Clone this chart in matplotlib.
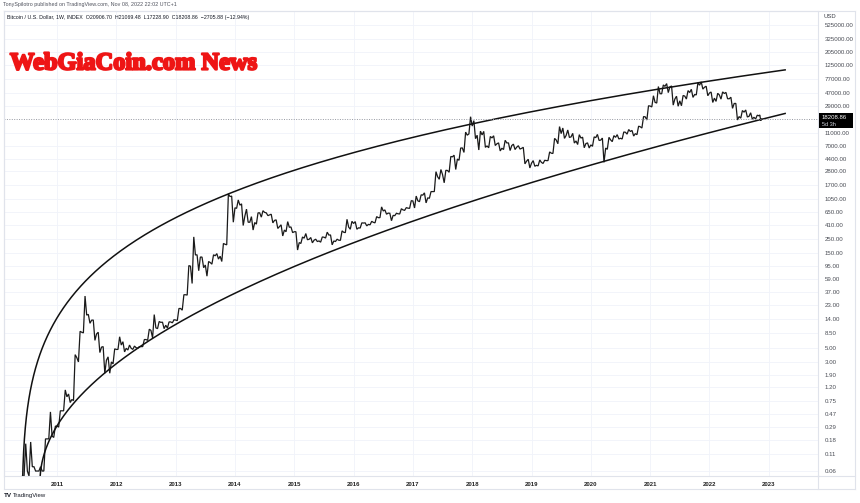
import numpy as np
import pandas as pd
import matplotlib
matplotlib.use("Agg")
import matplotlib.pyplot as plt
import matplotlib.patheffects as pe
from matplotlib.patches import Rectangle
from matplotlib.lines import Line2D

plt.rcParams['font.family'] = ['Liberation Sans', 'DejaVu Sans']

# ---------------- data (monthly) ----------------
first_month = "2010-06"
first_open = 0.05
last_end = 2022.88

highs = [0.16, 0.17, 0.07, 0.07, 0.19, 0.50, 0.30,
         0.52, 1.10, 0.95, 3.9, 9.0, 31.9, 16.5, 13.5, 8.7, 5.2, 3.6, 4.8,
         7.4, 6.2, 5.5, 5.3, 5.2, 6.7, 9.7, 16.4, 12.8, 12.5, 12.6, 13.6,
         20.4, 33.4, 95, 266, 140, 129, 110, 140, 146, 210, 1242, 1150,
         1000, 870, 720, 550, 630, 680, 630, 600, 490, 410, 460, 380,
         320, 265, 300, 260, 245, 265, 315, 285, 245, 330, 500, 465,
         460, 440, 440, 465, 550, 780, 700, 620, 620, 730, 760, 975,
         1150, 1200, 1290, 1350, 2760, 2980, 2900, 4750, 4980, 6450, 11400, 19800,
         17200, 11800, 11700, 9750, 9990, 7750, 8500, 7750, 7400, 7000, 6600, 4300,
         4100, 4200, 4150, 5600, 9100, 13900, 13200, 12300, 10900, 10400, 9500, 7750,
         9600, 10500, 9200, 9450, 10050, 10400, 11450, 12500, 12100, 14100, 19900, 29300,
         42000, 58400, 61800, 64900, 59600, 41300, 42400, 50500, 52900, 67000, 69000, 59100,
         48000, 45800, 48200, 47400, 39800, 31900, 24700, 25200, 22800, 20900, 21069]
lows = [0.05, 0.05, 0.06, 0.06, 0.06, 0.19, 0.20,
        0.29, 0.52, 0.70, 0.75, 3.0, 8.5, 12.0, 6.5, 4.2, 2.0, 2.0, 2.8,
        4.7, 4.3, 4.6, 4.7, 4.9, 5.2, 6.5, 7.1, 9.9, 9.9, 10.1, 12.2,
        13.2, 19.2, 33, 50, 79, 88, 65, 100, 120, 110, 200, 450,
        740, 400, 450, 340, 420, 540, 570, 440, 360, 275, 320, 310,
        166, 210, 240, 215, 225, 220, 255, 200, 225, 235, 310, 350,
        350, 365, 395, 410, 440, 530, 600, 475, 570, 605, 690, 740,
        750, 940, 900, 1060, 1350, 2100, 1850, 2700, 2980, 4150, 5500, 10700,
        9000, 6000, 6600, 6500, 7050, 5800, 6100, 5880, 6100, 6200, 3650, 3150,
        3350, 3390, 3700, 4100, 5300, 7500, 9100, 9400, 7700, 7300, 6500, 6450,
        6850, 8450, 3850, 6150, 8100, 8900, 8900, 10600, 9900, 10400, 13200, 17600,
        28100, 32300, 45000, 47000, 30000, 28800, 29300, 37300, 39600, 43300, 53300, 42000,
        33000, 34300, 37200, 37700, 26700, 17600, 18800, 19600, 18150, 18200, 17229]
closes = [0.06, 0.07, 0.06, 0.06, 0.19, 0.21, 0.30,
          0.52, 0.86, 0.78, 3.5, 8.7, 16.1, 13.4, 8.2, 5.1, 3.2, 3.0, 4.7,
          5.5, 4.9, 4.9, 5.0, 5.2, 6.7, 9.3, 10.2, 12.4, 11.2, 12.6, 13.5,
          20.4, 33.4, 93, 139, 129, 97, 106, 135, 133, 204, 1130, 755,
          830, 560, 450, 445, 630, 640, 585, 480, 385, 340, 375, 320,
          217, 254, 244, 236, 230, 263, 284, 230, 236, 314, 378, 430,
          368, 437, 416, 448, 530, 673, 624, 575, 609, 700, 745, 964,
          970, 1190, 1080, 1350, 2300, 2480, 2875, 4700, 4340, 6450, 10200, 14150,
          10200, 10300, 6950, 9250, 7500, 6400, 7730, 7030, 6630, 6370, 4020, 3740,
          3460, 3850, 4100, 5350, 8570, 10800, 10100, 9600, 8300, 9200, 7550, 7200,
          9350, 8550, 6430, 8630, 9450, 9140, 11330, 11650, 10780, 13800, 19700, 29000,
          33100, 45200, 58800, 57700, 37300, 35000, 41500, 47100, 43800, 61300, 57000, 46300,
          38500, 43200, 45500, 37700, 31800, 19900, 23300, 20050, 19420, 20500, 18208.86]

price_ticks = [525000, 325000, 205000, 125000, 77000, 47000, 29000, 11000, 7000,
               4400, 2800, 1700, 1050, 650, 410, 250, 150, 95, 59, 37, 23, 14,
               8.5, 5, 3, 1.9, 1.2, 0.75, 0.47, 0.29, 0.18, 0.11, 0.06]
year_ticks = list(range(2011, 2024))

last_price = 18208.86
countdown = "5d 3h"

header1 = "TonySpilotro published on TradingView.com, Nov 08, 2022 22:02 UTC+1"
header2 = ("Bitcoin / U.S. Dollar, 1W, INDEX  O20906.70  H21069.48  L17228.90  "
           "C18208.86  \u22122705.88 (\u221212.94%)")
watermark = "WebGiaCoin.com News"

# channel curves drawn on chart: log10(P) = a + b * (t - t0) ** p
upper_t0, upper_a, upper_b, upper_p = 2010.410, -3.368, 5.036, 0.2
lower_t0, lower_a, lower_b, lower_p = 2010.7133, -1.3838, 1.6169, 0.5
curve_end = 2023.276

# ---------------- figure ----------------
W, H = 860, 503
fig = plt.figure(figsize=(W / 100, H / 100), dpi=100)
fig.patch.set_facecolor('white')

def fx(px):
    return px / W

def fy(py):
    return 1 - py / H

ax = fig.add_axes([fx(4), fy(476), fx(818) - fx(4), fy(11) - fy(476)])
ax.set_yscale('log')
ax.set_xlim(2010.106, 2023.83)
ax.set_ylim(0.0502, 877000)

# price path
months = pd.period_range(first_month, periods=len(closes), freq='M')
starts = np.array([p.year + (p.month - 1) / 12 for p in months])
ends = np.append(starts[1:], last_end)
opens = [first_open] + closes[:-1]
xs, ys = [], []
for s, e, o, h, l, c in zip(starts, ends, opens, highs, lows, closes):
    d = e - s
    first, second = (l, h) if c >= o else (h, l)
    xs += [s, s + d / 3, s + 2 * d / 3, e]
    ys += [o, first, second, c]
ax.plot(xs, ys, color='#1a1a1a', lw=0.9, solid_joinstyle='miter')

# channel curves
tau_u = np.geomspace(1e-4, curve_end - upper_t0, 800)
ax.plot(upper_t0 + tau_u, 10 ** (upper_a + upper_b * tau_u ** upper_p),
        color='#111111', lw=1.1)
tau_l = np.geomspace(1e-4, curve_end - lower_t0, 800)
ax.plot(lower_t0 + tau_l, 10 ** (lower_a + lower_b * tau_l ** lower_p),
        color='#111111', lw=1.1)

# current price dotted line
ax.axhline(last_price, color='#9598a1', lw=0.7, ls=(0, (1, 1.5)))

# axes styling
ax.set_yticks(price_ticks)
ax.set_yticklabels([f"{v:.2f}" for v in price_ticks])
ax.yaxis.set_minor_locator(matplotlib.ticker.NullLocator())
ax.yaxis.tick_right()
ax.tick_params(axis='y', length=0, pad=5, labelsize=4.4, labelcolor='#4a4d55')
ax.set_xticks(year_ticks)
ax.set_xticklabels([str(y) for y in year_ticks])
ax.tick_params(axis='x', length=0, pad=4, labelsize=4.3, labelcolor='#222222')
for lab in ax.get_xticklabels():
    lab.set_fontweight('bold')
ax.grid(True, color='#f0f3fa', lw=0.6)
ax.set_axisbelow(True)
for sp in ax.spines.values():
    sp.set_color('#e0e3eb')
    sp.set_linewidth(0.8)

# outer frame for price / time scales
fc = '#e0e3eb'
fig.add_artist(Line2D([fx(4), fx(855)], [fy(11), fy(11)], color=fc, lw=0.8))
fig.add_artist(Line2D([fx(855), fx(855)], [fy(11), fy(489)], color=fc, lw=0.8))
fig.add_artist(Line2D([fx(4), fx(855)], [fy(489), fy(489)], color=fc, lw=0.8))
fig.add_artist(Line2D([fx(4), fx(4)], [fy(11), fy(489)], color=fc, lw=0.8))
fig.add_artist(Line2D([fx(818), fx(855)], [fy(476), fy(476)], color=fc, lw=0.8))
fig.add_artist(Line2D([fx(818), fx(818)], [fy(476), fy(489)], color=fc, lw=0.8))

# texts
fig.text(fx(3), fy(4.5), header1, fontsize=3.9, color='#50535e', va='center', ha='left')
fig.text(fx(7), fy(17.5), header2, fontsize=3.8, color='#131722', va='center', ha='left')
fig.text(fx(824), fy(16.5), "USD", fontsize=4.2, color='#3a3d45', va='center', ha='left')
fig.text(fx(10), fy(69.5), watermark, fontsize=17.6, color='#ee1515', fontweight='bold',
         family=['Liberation Serif', 'DejaVu Serif'], va='baseline', ha='left',
         path_effects=[pe.withStroke(linewidth=1.6, foreground='#ee1515')])
fig.text(fx(4), fy(495.5), "TV", fontsize=4.5, color='#131722', fontweight='bold',
         va='center', ha='left')
fig.text(fx(13), fy(495.5), "TradingView", fontsize=4.3, color='#131722',
         va='center', ha='left')

# last price label box
fig.canvas.draw()
_, ypix = ax.transData.transform((2020, last_price))
ypix_top = H - ypix  # pixel from top
fig.add_artist(Rectangle((fx(819), fy(ypix_top + 9)), fx(34), 15 / H,
                         transform=fig.transFigure, facecolor='#000000', edgecolor='none'))
fig.text(fx(822), fy(ypix_top - 1.5), f"{last_price:.2f}", fontsize=4.3, color='white',
         va='center', ha='left')
fig.text(fx(822), fy(ypix_top + 5), countdown, fontsize=4.0, color='#d1d4dc',
         va='center', ha='left')

fig.savefig("out.png", dpi=100, facecolor='white')
